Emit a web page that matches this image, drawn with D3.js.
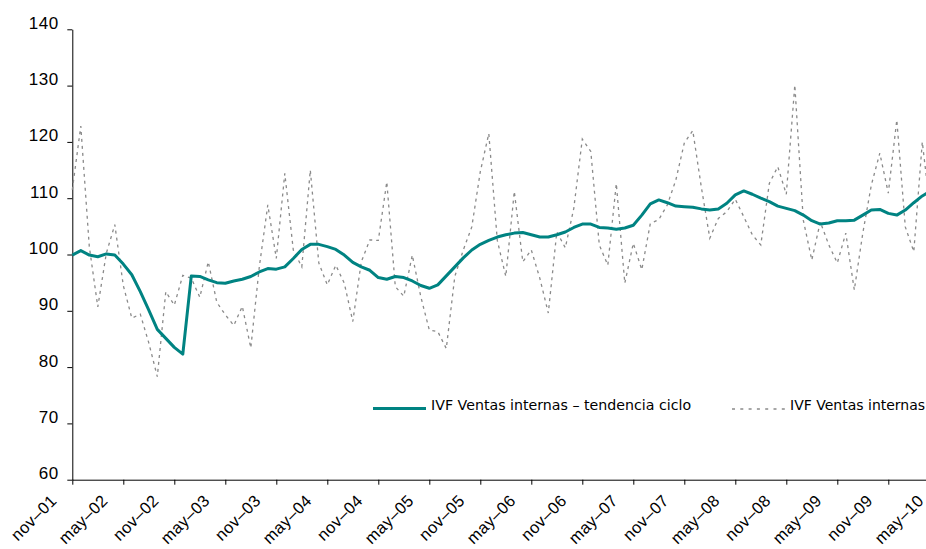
<!DOCTYPE html>
<html><head><meta charset="utf-8">
<script src="https://cdn.jsdelivr.net/npm/d3@7"></script>
<style>
html,body{margin:0;padding:0;background:#fff;}
svg{display:block;font-family:"DejaVu Sans",Verdana,sans-serif;}
</style></head>
<body>
<svg id="c" width="926" height="549"></svg>
<script>
// Monthly series starting nov-01 (index 0)
const ventas = [111.5,122.8,101.4,90.7,100.2,105.3,94.5,88.7,89.4,84.3,78.3,93.4,91.0,96.3,95.8,92.4,98.7,91.5,89.3,87.4,
  90.8,83.4,97.8,108.8,99.3,114.4,100.8,97.8,115.0,98.5,94.6,98.1,94.9,88.1,98.7,102.6,102.5,112.9,94.3,92.6,
  99.9,92.5,86.6,86.3,83.3,96.1,100.8,104.9,114.7,121.5,102.5,96.1,111.2,98.7,100.8,95.8,89.6,104.0,101.2,108.2,
  120.5,118.3,101.7,98.1,112.6,94.9,102.0,97.3,105.5,106.2,108.8,113.2,119.8,122.0,112.0,102.9,106.4,107.6,109.8,106.7,
  103.5,101.7,112.6,115.6,110.7,130.1,106.1,99.0,105.8,101.7,98.5,103.8,93.7,103.8,112.3,118.0,110.9,123.9,104.9,100.5,
  120.0,107.0];
const tendencia = [99.9,100.7,99.9,99.6,100.1,99.9,98.3,96.4,93.4,90.1,86.7,85.1,83.5,82.3,96.2,96.1,95.5,95.0,94.9,95.3,
  95.6,96.1,96.9,97.5,97.4,97.8,99.3,100.9,101.8,101.8,101.4,100.9,99.9,98.6,97.8,97.2,95.9,95.6,96.1,95.9,
  95.3,94.5,94.0,94.6,96.2,97.8,99.4,100.8,101.8,102.5,103.1,103.5,103.8,103.9,103.5,103.1,103.1,103.5,104.0,104.8,
  105.4,105.4,104.8,104.7,104.5,104.7,105.2,107.0,109.0,109.7,109.2,108.6,108.5,108.4,108.1,107.9,108.1,109.1,110.6,111.3,
  110.7,110.0,109.4,108.6,108.2,107.8,107.0,106.0,105.4,105.6,106.0,106.0,106.1,107.0,107.9,108.0,107.3,107.0,107.9,109.2,
  110.4,111.3];
const xTickLabels = ["nov–01","may–02","nov–02","may–03","nov–03","may–04","nov–04","may–05","nov–05","may–06",
  "nov–06","may–07","nov–07","may–08","nov–08","may–09","nov–09","may–10"];
const yTicks = [60,70,80,90,100,110,120,130,140];
const seriesNames = ["IVF Ventas internas – tendencia ciclo","IVF Ventas internas"];

const svg = d3.select("#c");
const x = d3.scaleLinear().domain([0, 102]).range([72.3, 939.3]);
const y = d3.scaleLinear().domain([60, 140]).range([479.7, 29.3]);

// Y axis
const yAx = svg.append("g").attr("transform","translate(72.3,0)")
  .call(d3.axisLeft(y).tickValues(yTicks).tickSize(5).tickSizeOuter(0));
yAx.select(".domain").attr("stroke","#000");
yAx.selectAll(".tick line").attr("stroke","#000");
yAx.selectAll(".tick text").attr("x",-13.5).attr("dy","-0.06em").attr("fill","#000")
  .style("font-size","17px").style("letter-spacing","0.6px");

// X axis
const xAx = svg.append("g").attr("transform","translate(0,479.7)")
  .call(d3.axisBottom(x).tickValues(d3.range(0,103,6)).tickSize(5).tickSizeOuter(0)
    .tickFormat((d,i)=>xTickLabels[i]));
xAx.select(".domain").attr("stroke","#000");
xAx.selectAll(".tick line").attr("stroke","#000");
xAx.selectAll(".tick text").attr("y",0).attr("dy",0).attr("fill","#000")
  .attr("text-anchor","end")
  .attr("transform","translate(-15,22) rotate(-45)")
  .style("font-size","16.5px").style("letter-spacing","0.4px");

// Lines
const line = d => d3.line().x((v,i)=>x(i)).y(v=>y(v))(d);
svg.append("path").attr("d", line(ventas)).attr("fill","none")
  .attr("stroke","#8a8a8a").attr("stroke-width",1.3).attr("stroke-dasharray","3,4");
svg.append("path").attr("d", line(tendencia)).attr("fill","none")
  .attr("stroke","#008382").attr("stroke-width",3).attr("stroke-linejoin","round");

// Legend
const lg = svg.append("g");
lg.append("line").attr("x1",373).attr("x2",426).attr("y1",408.5).attr("y2",408.5)
  .attr("stroke","#008382").attr("stroke-width",3);
lg.append("text").attr("x",431).attr("y",410).text(seriesNames[0]).style("font-size","14.2px").attr("fill","#000");
lg.append("line").attr("x1",732).attr("x2",786).attr("y1",409).attr("y2",409)
  .attr("stroke","#8a8a8a").attr("stroke-width",1.3).attr("stroke-dasharray","3,5.3");
lg.append("text").attr("x",790).attr("y",410).text(seriesNames[1]).style("font-size","14px").attr("fill","#000");
</script>
</body></html>
